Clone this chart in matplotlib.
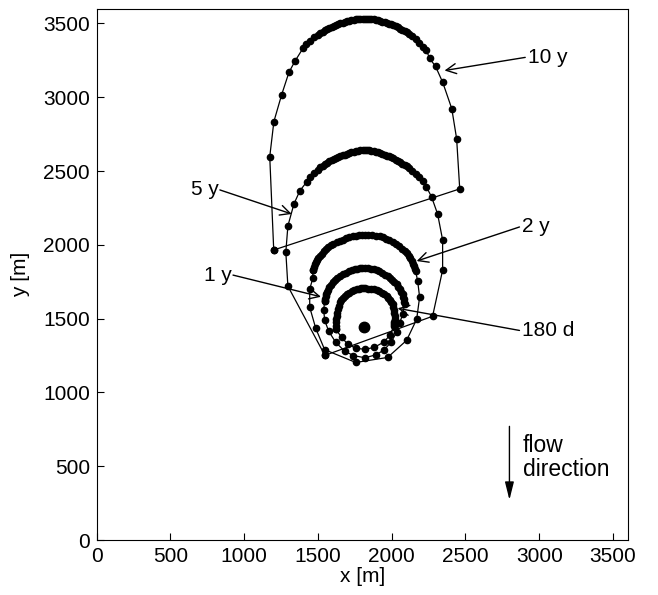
import numpy as np
import matplotlib
matplotlib.use("Agg")
import matplotlib.pyplot as plt

plt.rcParams["font.family"] = ["Liberation Sans", "DejaVu Sans"]

# front positions (m), one polygon per travel time
x_10y = [1200, 1173, 1201, 1254, 1303, 1343,
         1398, 1422, 1447, 1472, 1497, 1517, 1532, 1547, 1562, 1577, 1592, 1607, 1622, 1637,
         1652, 1667, 1682, 1697, 1712, 1727, 1742, 1757, 1772, 1787, 1802, 1817,
         1832, 1847, 1862, 1877, 1892, 1907, 1922, 1937, 1952, 1967, 1982, 1997, 2012, 2027,
         2042, 2057, 2072, 2087, 2102, 2117, 2137, 2162, 2187, 2212, 2235,
         2257, 2297, 2346, 2407, 2440, 2461]
y_10y = [1965, 2597, 2835, 3018, 3168, 3243,
         3331, 3358, 3384, 3405, 3424, 3436, 3445, 3453, 3461, 3469, 3476, 3483, 3489, 3495,
         3500, 3505, 3510, 3514, 3518, 3521, 3524, 3527, 3529, 3530, 3531, 3531,
         3531, 3530, 3529, 3527, 3524, 3521, 3517, 3513, 3509, 3504, 3499, 3493, 3487, 3480,
         3473, 3465, 3457, 3448, 3439, 3429, 3414, 3392, 3368, 3343, 3318,
         3263, 3209, 3100, 2923, 2719, 2379]

x_5y = [1547, 1296, 1282, 1296, 1337, 1377,
        1424, 1447, 1472, 1497, 1517, 1532, 1547, 1562, 1577, 1592, 1607, 1622, 1637, 1652,
        1667, 1682, 1697, 1712, 1727, 1742, 1757, 1772, 1787, 1802, 1817,
        1832, 1847, 1862, 1877, 1892, 1907, 1922, 1937, 1952, 1967, 1982, 1997, 2012, 2027,
        2042, 2057, 2072, 2087, 2102, 2117, 2137, 2162, 2187, 2210,
        2235, 2270, 2311, 2345, 2345, 2277]
y_5y = [1251, 1720, 1951, 2128, 2277, 2366,
        2427, 2458, 2486, 2509, 2526, 2537, 2547, 2556, 2565, 2573, 2581, 2588, 2595, 2601,
        2607, 2612, 2617, 2622, 2626, 2630, 2634, 2637, 2640, 2642, 2644,
        2642, 2640, 2637, 2634, 2630, 2626, 2621, 2616, 2611, 2605, 2599, 2592, 2585, 2577,
        2569, 2560, 2551, 2541, 2531, 2520, 2503, 2480, 2458, 2434,
        2393, 2325, 2209, 2033, 1829, 1516]

x_2y = [1465, 1471, 1478, 1486, 1495, 1503, 1512, 1525, 1538, 1552, 1566, 1585, 1605, 1626,
        1647, 1668, 1690, 1712, 1735, 1755, 1775, 1796, 1817, 1840, 1865, 1892, 1918, 1940,
        1962, 1984, 2006, 2027, 2048, 2068, 2088, 2102, 2115, 2125, 2135, 2143, 2150, 2156, 2162,
        2176, 2189, 2169, 2101, 1972, 1756, 1545, 1485, 1444, 1444, 1465]
y_2y = [1829, 1850, 1869, 1884, 1898, 1911, 1924, 1940, 1956, 1971, 1985, 1997, 2008, 2017,
        2026, 2036, 2045, 2053, 2060, 2063, 2065, 2066, 2067, 2066, 2065, 2063, 2060, 2051,
        2042, 2031, 2019, 2005, 1990, 1974, 1958, 1942, 1925, 1908, 1890, 1873, 1856, 1839, 1822,
        1754, 1645, 1496, 1353, 1237, 1203, 1290, 1434, 1577, 1700, 1774]

x_1y = [1545, 1548, 1552, 1555, 1559, 1568, 1578, 1589, 1600, 1616, 1632, 1650, 1668, 1688,
        1708, 1728, 1749, 1766, 1783, 1800, 1817, 1838, 1858, 1878, 1898, 1916, 1935, 1953,
        1972, 1988, 2003, 2018, 2033, 2044, 2055, 2065, 2074, 2079, 2083, 2086, 2088,
        2074, 2054, 2033, 1995, 1950, 1895, 1817, 1740, 1680, 1620, 1573, 1545, 1539]
y_1y = [1618, 1634, 1650, 1665, 1679, 1697, 1715, 1731, 1747, 1762, 1776, 1789, 1801, 1811,
        1820, 1828, 1835, 1838, 1840, 1841, 1842, 1840, 1838, 1834, 1829, 1820, 1810, 1799,
        1788, 1775, 1762, 1748, 1733, 1717, 1700, 1683, 1666, 1649, 1632, 1615, 1598,
        1530, 1470, 1407, 1340, 1290, 1255, 1235, 1250, 1280, 1340, 1414, 1490, 1560]

x_180d = [1620, 1621, 1622, 1624, 1627, 1631, 1635, 1641, 1647, 1657, 1668, 1681, 1695, 1711,
          1728, 1745, 1762, 1776, 1790, 1803, 1817, 1838, 1858, 1878, 1898, 1916, 1935, 1950,
          1966, 1978, 1990, 1998, 2006, 2011, 2016, 2018, 2020, 2019, 2018, 2015, 2013,
          1990, 1945, 1880, 1817, 1755, 1702, 1661]
y_180d = [1428, 1452, 1475, 1496, 1516, 1541, 1565, 1588, 1611, 1627, 1642, 1654, 1666, 1677,
          1688, 1694, 1700, 1703, 1705, 1706, 1706, 1704, 1702, 1698, 1693, 1684, 1675, 1664,
          1652, 1639, 1625, 1612, 1598, 1579, 1560, 1538, 1516, 1498, 1480, 1464, 1448,
          1390, 1340, 1305, 1292, 1300, 1326, 1373]

well_x, well_y = 1810, 1445

fronts = [(x_10y, y_10y), (x_5y, y_5y), (x_2y, y_2y), (x_1y, y_1y), (x_180d, y_180d)]

# label text, arrow tail, arrow tip
labels = [
    ("10 y", (2905, 3270), (2358, 3181), "left"),
    ("5 y", (835, 2372), (1322, 2209), "right"),
    ("2 y", (2866, 2121), (2169, 1890), "left"),
    ("1 y", (924, 1795), (1520, 1648), "right"),
    ("180 d", (2866, 1420), (2040, 1570), "left"),
]

fig = plt.figure(figsize=(6.58, 5.95), dpi=100)
ax = fig.add_axes([0.147, 0.0924, 0.807, 0.893])

for fx, fy in fronts:
    ax.plot(np.append(fx, fx[0]), np.append(fy, fy[0]), "-", color="k", lw=0.9,
            marker="o", ms=4.5, mfc="k", mec="k", zorder=3)

ax.plot([well_x], [well_y], "o", color="k", ms=7.5, zorder=4)

for txt, tail, tip, ha in labels:
    ax.annotate("", xy=tip, xytext=tail,
                arrowprops=dict(arrowstyle="->", lw=1.0, color="k", mutation_scale=18,
                                shrinkA=0, shrinkB=0), zorder=5)
    dx = 20 if ha == "left" else -10
    ax.text(tail[0] + dx, tail[1], txt, ha=ha, va="center", fontsize=15)

# flow direction marker
ax.annotate("", xy=(2798, 272), xytext=(2798, 770),
            arrowprops=dict(arrowstyle="-|>,head_length=0.6,head_width=0.15", lw=1.0,
                            color="k", mutation_scale=18, shrinkA=0, shrinkB=0))
ax.text(2890, 558, "flow\ndirection", ha="left", va="center", fontsize=16.5, linespacing=1.05)

ax.set_xlim(0, 3600)
ax.set_ylim(0, 3600)
ax.set_xticks(np.arange(0, 3501, 500))
ax.set_yticks(np.arange(0, 3501, 500))
ax.tick_params(direction="in", length=5, labelsize=15, top=False, right=False, pad=5)
for s in ax.spines.values():
    s.set_linewidth(0.8)
ax.set_xlabel("x [m]", fontsize=15, labelpad=1)
ax.set_ylabel("y [m]", fontsize=15, labelpad=9)

fig.savefig("out.png", dpi=100, facecolor="white")
